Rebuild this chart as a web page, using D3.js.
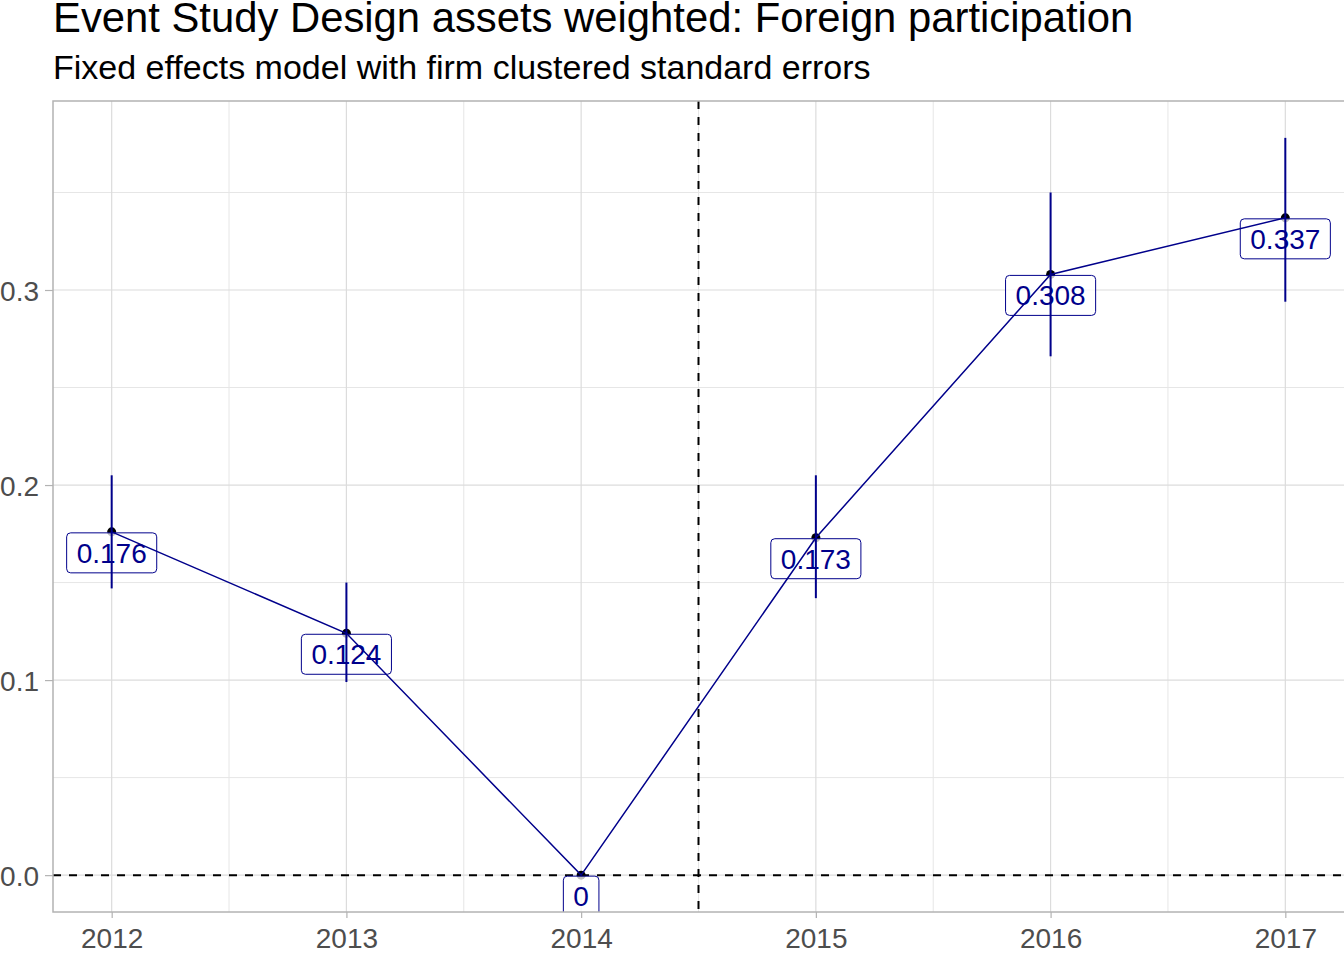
<!DOCTYPE html>
<html>
<head>
<meta charset="utf-8">
<script src="https://cdn.jsdelivr.net/npm/d3@7"></script>
<style>
  body { margin: 0; background: #fff; }
  svg { display: block; font-family: "Liberation Sans", Arial, sans-serif; }
</style>
</head>
<body>
<div id="chart"></div>
<script>
// data
const years = [2012, 2013, 2014, 2015, 2016, 2017]
const estimates = [0.176, 0.124, 0, 0.173, 0.308, 0.337]
const lowerCI = [0.147, 0.099, 0, 0.142, 0.266, 0.294]
const upperCI = [0.205, 0.150, 0, 0.205, 0.350, 0.378]
const yBreaks = [0.0, 0.1, 0.2, 0.3]
const yMinor = [0.05, 0.15, 0.25, 0.35]
const xMinor = [2012.5, 2013.5, 2014.5, 2015.5, 2016.5]
const treatmentLine = 2014.5
const title = "Event Study Design assets weighted: Foreign participation"
const subtitle = "Fixed effects model with firm clustered standard errors"

const width = 1344, height = 960
const margin = { top: 101, right: 0, bottom: 48, left: 53 }
const navy = "#00008B"

const data = years.map((y, i) => ({ year: y, est: estimates[i], lo: lowerCI[i], hi: upperCI[i] }))

const svg = d3.select("#chart").append("svg")
    .attr("width", width)
    .attr("height", height)

// scales, with ggplot style 5% expansion
const xPad = (d3.max(years) - d3.min(years)) * 0.05
const x = d3.scaleLinear()
    .domain([d3.min(years) - xPad, d3.max(years) + xPad])
    .range([margin.left, width - margin.right])

const yLo = Math.min(0, d3.min(lowerCI)), yHi = d3.max(upperCI)
const yPad = (yHi - yLo) * 0.05
const y = d3.scaleLinear()
    .domain([yLo - yPad, yHi + yPad])
    .range([height - margin.bottom, margin.top])

const panelW = width - margin.right - margin.left
const panelH = height - margin.bottom - margin.top

svg.append("clipPath").attr("id", "panel")
    .append("rect")
    .attr("x", margin.left).attr("y", margin.top)
    .attr("width", panelW).attr("height", panelH)

// titles
svg.append("text")
    .attr("x", 53).attr("y", 32)
    .attr("font-size", 41.8).attr("fill", "#000")
    .text(title)
svg.append("text")
    .attr("x", 53).attr("y", 79)
    .attr("font-size", 34).attr("fill", "#000")
    .text(subtitle)

/**
 * Grid
 */
const grid = svg.append("g")
grid.selectAll(".ymin").data(yMinor).enter().append("line")
    .attr("x1", margin.left).attr("x2", width - margin.right)
    .attr("y1", d => y(d)).attr("y2", d => y(d))
    .attr("stroke", "#e6e6e6").attr("stroke-width", 1)
grid.selectAll(".xmin").data(xMinor).enter().append("line")
    .attr("y1", margin.top).attr("y2", height - margin.bottom)
    .attr("x1", d => x(d)).attr("x2", d => x(d))
    .attr("stroke", "#e6e6e6").attr("stroke-width", 1)
grid.selectAll(".ymaj").data(yBreaks).enter().append("line")
    .attr("x1", margin.left).attr("x2", width - margin.right)
    .attr("y1", d => y(d)).attr("y2", d => y(d))
    .attr("stroke", "#dcdcdc").attr("stroke-width", 1.2)
grid.selectAll(".xmaj").data(years).enter().append("line")
    .attr("y1", margin.top).attr("y2", height - margin.bottom)
    .attr("x1", d => x(d)).attr("x2", d => x(d))
    .attr("stroke", "#dcdcdc").attr("stroke-width", 1.2)

/**
 * Axes
 */
const xAxis = svg.append("g")
    .attr("transform", `translate(0,${height - margin.bottom})`)
    .call(d3.axisBottom(x).tickValues(years).tickFormat(d3.format("d")).tickSize(6).tickSizeOuter(0))
xAxis.select(".domain").remove()
xAxis.selectAll(".tick line").attr("stroke", "#b3b3b3").attr("stroke-width", 1.2)
xAxis.selectAll(".tick text")
    .attr("font-size", 28).attr("fill", "#4d4d4d")
    .attr("font-family", "Liberation Sans, Arial, sans-serif")
    .attr("dy", 0).attr("y", 36)

const yAxis = svg.append("g")
    .attr("transform", `translate(${margin.left},0)`)
    .call(d3.axisLeft(y).tickValues(yBreaks).tickFormat(d3.format(".1f")).tickSize(8).tickSizeOuter(0))
yAxis.select(".domain").remove()
yAxis.selectAll(".tick line").attr("stroke", "#b3b3b3").attr("stroke-width", 1.2)
yAxis.selectAll(".tick text")
    .attr("font-size", 28).attr("fill", "#4d4d4d")
    .attr("font-family", "Liberation Sans, Arial, sans-serif")
    .attr("x", -14).attr("dy", "0.36em")

const plot = svg.append("g").attr("clip-path", "url(#panel)")

// reference lines
plot.append("line")
    .attr("x1", margin.left).attr("x2", width - margin.right)
    .attr("y1", y(0)).attr("y2", y(0))
    .attr("stroke", "#000").attr("stroke-width", 2).attr("stroke-dasharray", "8,8")
plot.append("line")
    .attr("x1", x(treatmentLine)).attr("x2", x(treatmentLine))
    .attr("y1", margin.top).attr("y2", height - margin.bottom)
    .attr("stroke", "#000").attr("stroke-width", 2).attr("stroke-dasharray", "8,8")

// points (under labels)
plot.selectAll("circle").data(data).enter().append("circle")
    .attr("cx", d => x(d.year)).attr("cy", d => y(d.est))
    .attr("r", 4.5).attr("fill", "#000")

/**
 * Labels
 */
const fmt = d => d === 0 ? "0" : String(d)
const labels = plot.selectAll(".lab").data(data).enter().append("g")
    .attr("transform", d => `translate(${x(d.year)},${y(d.est)})`)
labels.append("text")
    .attr("class", "labtxt")
    .attr("text-anchor", "middle")
    .attr("y", 31)
    .attr("font-size", 28)
    .attr("fill", navy)
    .text(d => fmt(d.est))
labels.each(function () {
    const g = d3.select(this)
    const bb = g.select("text").node().getBBox()
    g.insert("rect", "text")
        .attr("x", bb.x - 10).attr("y", 1)
        .attr("width", bb.width + 20).attr("height", 40)
        .attr("rx", 4).attr("ry", 4)
        .attr("fill", "#fff").attr("fill-opacity", 0.75)
        .attr("stroke", navy).attr("stroke-width", 1)
})

// connecting line
plot.append("path")
    .datum(data)
    .attr("fill", "none")
    .attr("stroke", navy)
    .attr("stroke-width", 1.5)
    .attr("d", d3.line().x(d => x(d.year)).y(d => y(d.est)))

// error bars
plot.selectAll(".err").data(data).enter().append("line")
    .attr("x1", d => x(d.year)).attr("x2", d => x(d.year))
    .attr("y1", d => y(d.lo)).attr("y2", d => y(d.hi))
    .attr("stroke", navy).attr("stroke-width", 2)

// panel border (left, top, bottom visible)
svg.append("rect")
    .attr("x", margin.left).attr("y", margin.top)
    .attr("width", panelW + 2).attr("height", panelH)
    .attr("fill", "none").attr("stroke", "#b3b3b3").attr("stroke-width", 1.5)
</script>
</body>
</html>
